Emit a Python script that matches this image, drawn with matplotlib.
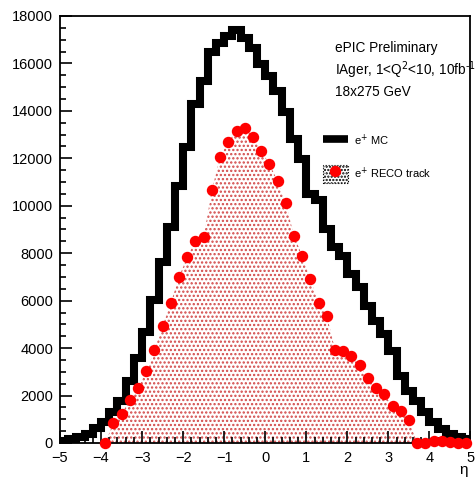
import numpy as np
import matplotlib
matplotlib.use("Agg")
import matplotlib.pyplot as plt
from matplotlib.lines import Line2D
from matplotlib.patches import Patch
from matplotlib.ticker import MultipleLocator

plt.rcParams['font.family'] = ['Liberation Sans', 'DejaVu Sans']
plt.rcParams['hatch.linewidth'] = 1.1

# eta binning: 50 bins between -5 and 5
eta_lo, eta_hi, n_bins = -5.0, 5.0, 50

# e+ MC (black histogram)
mc_counts = [
    100, 170, 240, 380, 630, 870, 1290, 1780, 2630, 3580,
    4670, 6040, 7620, 9120, 10850, 12490, 14290, 15250, 16470, 16850,
    17170, 17410, 17075, 16650, 15980, 15490, 14850, 13940, 12820, 11970,
    10500, 10245, 9020, 8260, 7880, 7125, 6564, 5789, 5156, 4595,
    3891, 2837, 2205, 1783, 1294, 873, 590, 380, 240, 170,
]

# e+ RECO track (red points), empty bins left as nan
reco_counts = [
    np.nan, np.nan, np.nan, np.nan, np.nan, 20, 830, 1235, 1800, 2331,
    3023, 3921, 4946, 5902, 7011, 7842, 8530, 8698, 10666, 12058,
    12703, 13167, 13280, 12901, 12311, 11776, 11046, 10118, 8740, 7897,
    6901, 5902, 5367, 3934, 3866, 3681, 3276, 2728, 2331, 2053,
    1547, 1336, 970, 10, 5, 80, 80, 40, 10, 10,
]

info_lines = ["ePIC Preliminary", r"IAger, 1<Q$^{2}$<10, 10fb$^{\text{-1}}$", "18x275 GeV"]

edges = np.linspace(eta_lo, eta_hi, n_bins + 1)
centers = 0.5 * (edges[:-1] + edges[1:])
mc = np.array(mc_counts, dtype=float)
reco = np.array(reco_counts, dtype=float)

fig = plt.figure(figsize=(4.77, 4.82), dpi=100)
ax = fig.add_axes([60 / 477, 39 / 482, 410.5 / 477, 427 / 482])

ax.stairs(mc, edges, color='black', linewidth=5.8, baseline=None,
          joinstyle='miter', zorder=2)

ok = ~np.isnan(reco)
ax.fill_between(centers[ok], reco[ok], 0, facecolor='none',
                edgecolor='#d24848', hatch='....', linewidth=0, zorder=1.5)
ax.plot(centers, reco, 'o', color='red', markersize=7.2,
        clip_on=False, zorder=4)

ax.set_xlim(eta_lo, eta_hi)
ax.set_ylim(0, 18000)
ax.xaxis.set_major_locator(MultipleLocator(1))
ax.xaxis.set_minor_locator(MultipleLocator(0.2))
ax.yaxis.set_major_locator(MultipleLocator(2000))
ax.yaxis.set_minor_locator(MultipleLocator(500))
ax.tick_params(which='both', direction='in', top=False, right=False,
               width=1.2, labelsize=10.5)
ax.tick_params(which='major', length=8.5, pad=5)
ax.tick_params(which='minor', length=4.2)
ax.tick_params(axis='x', which='major', pad=6)
for sp in ax.spines.values():
    sp.set_linewidth(1.3)

ax.text(0.983, -0.063, 'η', transform=ax.transAxes, ha='center',
        va='center', fontsize=11)

for i, line in enumerate(info_lines):
    ax.text(0.670, 0.9244 - i * 0.0508, line, transform=ax.transAxes,
            ha='left', va='center', fontsize=9.8)

h_mc = Line2D([], [], color='black', linewidth=5.5, solid_capstyle='butt')
h_box = Patch(facecolor='white', edgecolor='black', hatch='.....',
              linewidth=0.8, linestyle=':')
h_pt = Line2D([], [], marker='o', linestyle='', color='red', markersize=7.2)
ax.legend([h_mc, (h_box, h_pt)], [r'e$^{+}$ MC', r'e$^{+}$ RECO track'],
          loc='upper left', bbox_to_anchor=(0.640, 0.728), frameon=False,
          borderpad=0, borderaxespad=0, fontsize=8, handlelength=2.3,
          handleheight=2.2, handletextpad=0.5, labelspacing=1.25)

fig.savefig('out.png', dpi=100)
